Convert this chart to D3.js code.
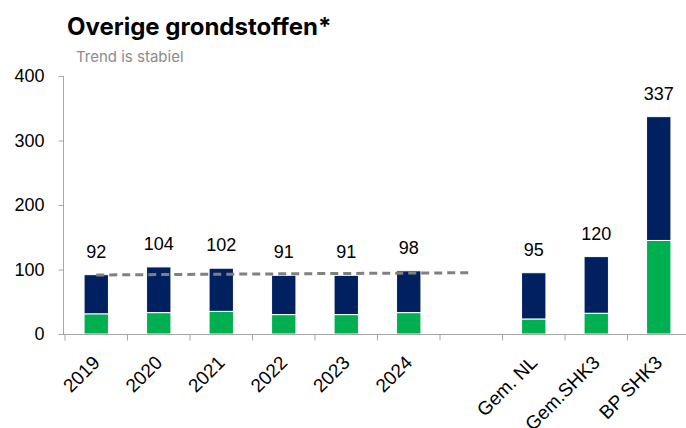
<!DOCTYPE html>
<html>
<head>
<meta charset="utf-8">
<script src="https://cdn.jsdelivr.net/npm/d3@7"></script>
<style>
  body { margin: 0; background: #fff; }
  svg { display: block; font-family: "Liberation Sans", Arial, sans-serif; }
</style>
</head>
<body>
<div id="chart"></div>
<script>
// --- data ---
const categories = ["2019", "2020", "2021", "2022", "2023", "2024", "", "Gem. NL", "Gem.SHK3", "BP SHK3"];
const greenValues = [31, 33, 35, 30, 30, 33, null, 23, 32, 145];
const totalValues = [92, 104, 102, 91, 91, 98, null, 95, 120, 337];
const trendCats = ["2019", "2020", "2021", "2022", "2023", "2024", ""];
const trendValues = [91.5, 92.1, 92.7, 93.3, 93.9, 94.4, 95];
const yTicks = [0, 100, 200, 300, 400];

(function () {
    const W = 686, H = 428;
    const svg = d3.select("#chart").append("svg")
        .attr("width", W).attr("height", H);

    const x = d3.scaleBand()
        .domain(categories)
        .range([65, 690])
        .paddingInner(0.61)
        .paddingOuter(0.305);

    const y = d3.scaleLinear().domain([0, 400]).range([334, 76]);

    const axisColor = "#a6a6a6";

    // title
    svg.append("text")
        .attr("x", 67).attr("y", 35)
        .style("font-family", "Inter, 'Open Sans', sans-serif")
        .style("font-weight", 700)
        .style("font-size", "24px")
        .attr("fill", "#000")
        .text("Overige grondstoffen*");

    svg.append("text")
        .attr("x", 76).attr("y", 62)
        .style("font-family", "Inter, 'Open Sans', sans-serif")
        .style("font-size", "15px")
        .attr("fill", "#8c8c8c")
        .text("Trend is stabiel");

    // y axis
    const yAxis = svg.append("g")
        .attr("transform", "translate(63.5,0)")
        .call(d3.axisLeft(y).tickValues(yTicks).tickSize(5).tickPadding(14));
    yAxis.select(".domain").attr("stroke", axisColor).attr("d", `M0,${y(400)}V${y(0)}`);
    yAxis.selectAll(".tick line").attr("stroke", axisColor);
    yAxis.selectAll(".tick text").style("font-size", "18px").attr("fill", "#000");

    // bars
    const rows = categories.map((c, i) => ({ cat: c, green: greenValues[i], total: totalValues[i] }))
        .filter(d => d.total != null);

    const bars = svg.append("g");
    bars.selectAll("rect.navy")
        .data(rows)
        .join("rect")
        .attr("class", "navy")
        .attr("x", d => x(d.cat))
        .attr("width", x.bandwidth())
        .attr("y", d => y(d.total))
        .attr("height", d => y(d.green) - y(d.total))
        .attr("fill", "#002060")
        .attr("stroke", "#fff").attr("stroke-width", 1);

    bars.selectAll("rect.green")
        .data(rows)
        .join("rect")
        .attr("class", "green")
        .attr("x", d => x(d.cat))
        .attr("width", x.bandwidth())
        .attr("y", d => y(d.green))
        .attr("height", d => y(0) - y(d.green))
        .attr("fill", "#00b050")
        .attr("stroke", "#fff").attr("stroke-width", 1);

    // x axis
    const step = x.step();
    const xAxisG = svg.append("g").attr("transform", `translate(0,${y(0) + 0.5})`);
    xAxisG.append("line")
        .attr("x1", 63).attr("x2", W)
        .attr("stroke", axisColor);
    xAxisG.selectAll("line.tick")
        .data(d3.range(categories.length))
        .join("line")
        .attr("class", "tick")
        .attr("x1", i => x.range()[0] + i * step)
        .attr("x2", i => x.range()[0] + i * step)
        .attr("y1", 0).attr("y2", 6)
        .attr("stroke", axisColor);

    svg.append("g").selectAll("text")
        .data(categories.filter(c => c !== ""))
        .join("text")
        .attr("transform", c => `translate(${x(c) + x.bandwidth() / 2},${y(0) + 25}) rotate(-45)`)
        .attr("text-anchor", "end")
        .attr("dy", "0.35em")
        .style("font-size", "19px")
        .attr("fill", "#000")
        .text(c => c);

    // trend line
    const line = d3.line()
        .x((d, i) => x(trendCats[i]) + x.bandwidth() / 2)
        .y(d => y(d));
    svg.append("path")
        .datum(trendValues)
        .attr("d", line)
        .attr("fill", "none")
        .attr("stroke", "#808080")
        .attr("stroke-width", 3)
        .attr("stroke-dasharray", "8,5");

    // value labels
    svg.append("g").selectAll("text")
        .data(rows)
        .join("text")
        .attr("x", d => x(d.cat) + x.bandwidth() / 2)
        .attr("y", d => y(d.total) - 17)
        .attr("text-anchor", "middle")
        .style("font-size", "18px")
        .attr("fill", "#000")
        .text(d => d.total);
})();
</script>
</body>
</html>
